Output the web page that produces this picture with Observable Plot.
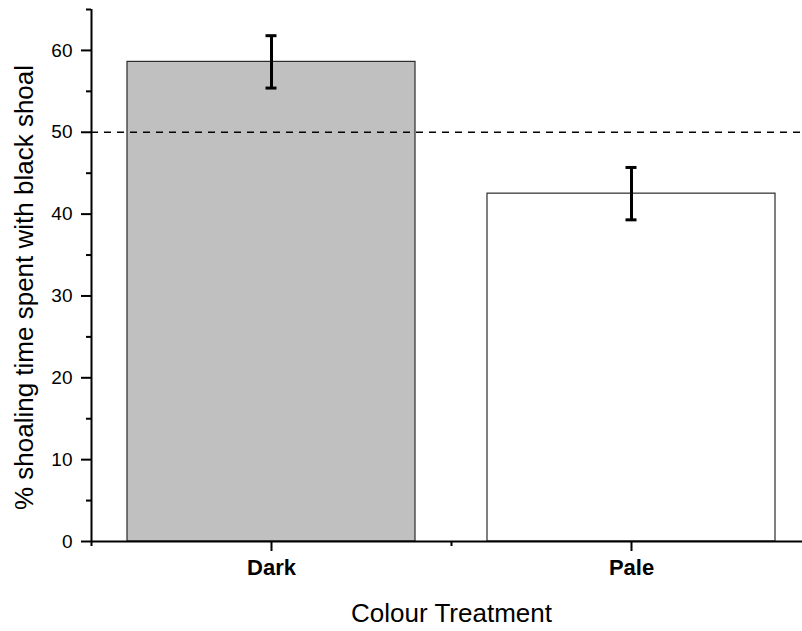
<!DOCTYPE html>
<html>
<head>
<meta charset="utf-8">
<script src="https://cdn.jsdelivr.net/npm/d3@7"></script>
<script src="https://cdn.jsdelivr.net/npm/@observablehq/plot@0.6"></script>
<style>
  html, body { margin: 0; padding: 0; overflow: hidden; background: #fff; }
</style>
</head>
<body>
<div id="chart"></div>
<script>
// ---- data ----
const categories = ["Dark", "Pale"];
const means = [58.6, 42.5];
const errors = [3.2, 3.2];
const fills = ["#c0c0c0", "#ffffff"];
const refLine = 50;
const yTicks = [0, 10, 20, 30, 40, 50, 60];
const yMinorTicks = [5, 15, 25, 35, 45, 55, 65];
const yDomain = [0, 65];
const xLabel = "Colour Treatment";
const yLabel = "% shoaling time spent with black shoal";

const data = categories.map((c, i) => ({
  category: c, idx: i, mean: means[i], err: errors[i], fill: fills[i]
}));
const xMajor = categories.map((c, i) => i + 0.5);
const xMinor = d3.range(categories.length + 1);

const font = "'Liberation Sans', Arial, Helvetica, sans-serif";

const chart = Plot.plot({
  width: 802,
  height: 631,
  marginLeft: 91,
  marginRight: 0,
  marginTop: 9,
  marginBottom: 90,
  style: {fontFamily: font, fontSize: "19px", color: "#000", background: "#fff", overflow: "hidden"},
  x: {type: "linear", domain: [0, categories.length], range: [91, 811]},
  y: {domain: yDomain},
  marks: [
    Plot.rectY(data, {
      x1: d => d.idx, x2: d => d.idx + 1, y1: 0, y2: "mean",
      insetLeft: 36, insetRight: 36,
      fill: d => d.fill, stroke: "#2a2a2a", strokeWidth: 1.2
    }),
    Plot.ruleY([refLine], {stroke: "#000", strokeWidth: 1.5, strokeDasharray: "7,6"}),
    Plot.ruleX(data, {x: d => d.idx + 0.5, y1: d => d.mean - d.err, y2: d => d.mean + d.err, stroke: "#000", strokeWidth: 3}),
    Plot.ruleY(data, {x1: d => d.idx + 0.5, x2: d => d.idx + 0.5, y: d => d.mean + d.err, insetLeft: -5.5, insetRight: -5.5, stroke: "#000", strokeWidth: 3}),
    Plot.ruleY(data, {x1: d => d.idx + 0.5, x2: d => d.idx + 0.5, y: d => d.mean - d.err, insetLeft: -5.5, insetRight: -5.5, stroke: "#000", strokeWidth: 3}),
    // axis lines
    Plot.ruleY([0], {stroke: "#000", strokeWidth: 2}),
    Plot.ruleX([0], {stroke: "#000", strokeWidth: 2}),
    // y axis
    Plot.axisY({ticks: yTicks, tickSize: 10, tickPadding: 9, strokeWidth: 2, fontSize: 19, label: null}),
    Plot.axisY({ticks: yMinorTicks, tickSize: 5, strokeWidth: 2, text: null, label: null}),
    // x axis
    Plot.axisX({ticks: xMajor, tickSize: 10, tickPadding: 8, strokeWidth: 2, fontSize: 22, fontWeight: "bold",
      tickFormat: d => categories[Math.floor(d)], label: null}),
    Plot.axisX({ticks: xMinor, tickSize: 5, strokeWidth: 2, text: null, label: null}),
    // axis titles
    Plot.text([xLabel], {x: categories.length / 2, frameAnchor: "bottom", dy: 72, fontSize: 26, lineAnchor: "middle", textAnchor: "middle", fill: "#000"}),
    Plot.text([yLabel], {frameAnchor: "left", rotate: -90, dx: -67, dy: 12, fontSize: 26, lineAnchor: "middle", textAnchor: "middle", fill: "#000"})
  ]
});
document.getElementById("chart").appendChild(chart);
</script>
</body>
</html>
